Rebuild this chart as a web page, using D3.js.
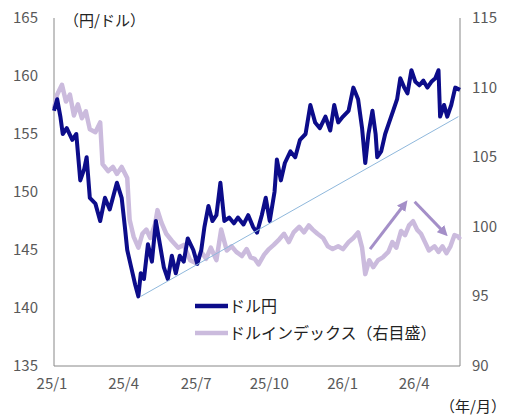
<!DOCTYPE html>
<html><head><meta charset="utf-8">
<script src="https://cdn.jsdelivr.net/npm/d3@7"></script>
<style>body{margin:0;background:#fff}text{font-family:"Noto Sans CJK JP","Noto Sans",sans-serif}</style>
</head><body><svg id="c" width="514" height="419"></svg>
<script>
// --- Data ---
const jpyDates = ["2025-01-01","2025-01-05","2025-01-09","2025-01-12","2025-01-17","2025-01-24","2025-01-29","2025-02-03","2025-02-08","2025-02-11","2025-02-15","2025-02-22","2025-02-28","2025-03-06","2025-03-12","2025-03-21","2025-03-27","2025-03-31","2025-04-03","2025-04-08","2025-04-13","2025-04-17","2025-04-20","2025-04-24","2025-04-29","2025-05-04","2025-05-09","2025-05-14","2025-05-19","2025-05-24","2025-05-29","2025-06-03","2025-06-08","2025-06-13","2025-06-18","2025-06-25","2025-06-30","2025-07-05","2025-07-09","2025-07-14","2025-07-19","2025-07-24","2025-07-29","2025-08-03","2025-08-09","2025-08-15","2025-08-20","2025-08-27","2025-09-02","2025-09-08","2025-09-13","2025-09-19","2025-09-24","2025-09-29","2025-10-05","2025-10-08","2025-10-13","2025-10-18","2025-10-25","2025-10-31","2025-11-06","2025-11-13","2025-11-19","2025-11-25","2025-12-01","2025-12-08","2025-12-14","2025-12-19","2025-12-24","2025-12-30","2026-01-06","2026-01-12","2026-01-18","2026-01-23","2026-01-27","2026-01-31","2026-02-05","2026-02-09","2026-02-11","2026-02-16","2026-02-21","2026-02-26","2026-03-03","2026-03-08","2026-03-12","2026-03-17","2026-03-21","2026-03-26","2026-03-31","2026-04-05","2026-04-10","2026-04-15","2026-04-20","2026-04-25","2026-04-29","2026-05-01","2026-05-06","2026-05-10","2026-05-15","2026-05-20","2026-05-26"];
const jpyValues = [157,158,156.5,155,155.5,154.5,155,151,152,153,149.5,149,147.5,149.5,148.5,150.8,149.5,147,145,143.5,142,141,143,142.5,145.5,144,147.5,145.5,143.5,142.5,144.5,143,144.5,144,146,145,143.8,145,147,148.8,147.5,148,150.8,147.5,147.8,147.3,147.8,147.2,148,147,146.5,148,149.5,147.5,150,152.8,151,152.5,153.5,153,154.5,155,157.5,156,155.5,156.5,155.3,157.5,156,156.5,157,159,158,155.5,152.5,155,157,155,153,153.5,155,156,157,158,159.8,159,158.5,160.5,159.5,159.2,159.6,159,159.5,159.8,160.5,156.5,157.5,156.5,157.5,159,158.8];
const dxyDates = ["2025-01-01","2025-01-05","2025-01-11","2025-01-16","2025-01-21","2025-01-26","2025-01-31","2025-02-05","2025-02-10","2025-02-15","2025-02-22","2025-02-28","2025-03-03","2025-03-10","2025-03-16","2025-03-21","2025-03-27","2025-04-03","2025-04-06","2025-04-11","2025-04-17","2025-04-22","2025-04-27","2025-05-02","2025-05-08","2025-05-11","2025-05-16","2025-05-22","2025-05-29","2025-06-06","2025-06-13","2025-06-21","2025-06-28","2025-07-05","2025-07-11","2025-07-17","2025-07-24","2025-07-30","2025-08-06","2025-08-12","2025-08-18","2025-08-25","2025-08-31","2025-09-05","2025-09-10","2025-09-15","2025-09-22","2025-09-28","2025-10-04","2025-10-11","2025-10-17","2025-10-23","2025-10-29","2025-11-05","2025-11-11","2025-11-17","2025-11-22","2025-11-28","2025-12-05","2025-12-11","2025-12-17","2025-12-24","2025-12-30","2026-01-06","2026-01-12","2026-01-18","2026-01-23","2026-01-27","2026-02-01","2026-02-06","2026-02-12","2026-02-18","2026-02-25","2026-03-02","2026-03-07","2026-03-13","2026-03-18","2026-03-23","2026-03-28","2026-04-02","2026-04-07","2026-04-12","2026-04-17","2026-04-24","2026-04-29","2026-05-04","2026-05-09","2026-05-14","2026-05-19","2026-05-24","2026-05-26"];
const dxyValues = [108.5,109.5,110.2,109,109.5,108,108.8,107.8,108.3,107,106.8,107.5,104.5,104,104.3,103.8,104.3,103.5,100.5,99.3,98.5,99.5,99.8,99.2,100.2,101.2,100.3,99.5,99,98.5,98.7,97.6,97.4,98.2,97.7,98.5,97.6,99.8,98.3,98.6,98.2,97.9,98.4,97.8,97.7,97.3,98,98.4,98.7,99.1,99.5,98.9,99.6,100,99.6,100.1,99.8,99.5,99.2,98.6,98.4,98.6,98.4,98.9,99.2,99.6,98.5,96.6,97.6,97.1,97.6,97.8,98.2,98.9,98.5,99.7,99.4,100.1,100.4,99.8,99.5,98.9,98.3,98.6,98.2,98.6,98.1,98.6,99.4,99.3,99.1];
const leftTicks = [135,140,145,150,155,160,165];
const rightTicks = [90,95,100,105,110,115];
const xTickDates = ["2025-01-01","2025-04-01","2025-07-01","2025-10-01","2026-01-01","2026-04-01"];
const trendLine = [["2025-04-20",141],["2026-05-24",156.5]];
const arrows = [[["2026-02-02",98.4],["2026-03-17",101.6]],[["2026-03-30",101.8],["2026-05-06",99.6]]];
const seriesNames = ["ドル円","ドルインデックス（右目盛）"];

const parse = d3.timeParse("%Y-%m-%d");
const svg = d3.select('#c');
const L = 54, R = 460, T = 18, B = 366;
const x = d3.scaleTime().domain([parse("2025-01-01"), parse("2026-05-26")]).range([L, R]);
const yL = d3.scaleLinear().domain([135, 165]).range([B, T]);
const yR = d3.scaleLinear().domain([90, 115]).range([B, T]);
const grey = '#888', txt = '#595959';

// axes
svg.append('path').attr('d', `M${L},${T}V${B}H${R}V${T}`).attr('fill', 'none').attr('stroke', grey).attr('stroke-width', 1);
svg.selectAll('.tl').data(leftTicks).join('text').attr('x', 38).attr('y', d => yL(d) + 5)
    .attr('text-anchor', 'end').attr('font-size', 15).attr('fill', txt).text(d => d);
svg.selectAll('.tr').data(rightTicks).join('text').attr('x', 472).attr('y', d => yR(d) + 5)
    .attr('font-size', 15).attr('fill', txt).text(d => d);
svg.selectAll('.tx').data(xTickDates).join('text').attr('x', d => x(parse(d)) - 2).attr('y', 389)
    .attr('text-anchor', 'middle').attr('font-size', 15).attr('fill', txt).text(d => d3.timeFormat('%y/')(parse(d)) + (parse(d).getMonth() + 1));
svg.append('text').attr('x', 64).attr('y', 26).attr('font-size', 15).attr('fill', '#222').text('（円/ドル）');
svg.append('text').attr('x', 506).attr('y', 412).attr('text-anchor', 'end').attr('font-size', 15).attr('fill', '#222').text('（年/月）');

// lines
const lineR = d3.line().x(d => x(d[0])).y(d => yR(d[1]));
const lineL = d3.line().x(d => x(d[0])).y(d => yL(d[1]));
svg.append('path').datum(dxyDates.map((d, i) => [parse(d), dxyValues[i]])).attr('d', lineR)
    .attr('fill', 'none').attr('stroke', '#cbbbdd').attr('stroke-width', 4.5).attr('stroke-linejoin', 'round');
svg.append('path').datum(jpyDates.map((d, i) => [parse(d), jpyValues[i]])).attr('d', lineL)
    .attr('fill', 'none').attr('stroke', '#0c0c8a').attr('stroke-width', 4).attr('stroke-linejoin', 'round');
svg.append('path').datum(trendLine.map(d => [parse(d[0]), d[1]])).attr('d', lineL)
    .attr('fill', 'none').attr('stroke', '#8fb8dc').attr('stroke-width', 1);

// arrows
svg.append('defs').append('marker').attr('id', 'ah').attr('viewBox', '0 0 10 10').attr('refX', 5).attr('refY', 5)
    .attr('markerWidth', 3.5).attr('markerHeight', 3.5).attr('orient', 'auto')
    .append('path').attr('d', 'M0,0L10,5L0,10Z').attr('fill', '#a48fc8');
svg.selectAll('.ar').data(arrows).join('path')
    .attr('d', d => lineR(d.map(p => [parse(p[0]), p[1]])))
    .attr('stroke', '#a48fc8').attr('stroke-width', 3).attr('fill', 'none').attr('marker-end', 'url(#ah)');

// legend
const lg = svg.selectAll('.lg').data(seriesNames).join('g').attr('transform', (d, i) => `translate(195,${306 + i * 27})`);
lg.append('line').attr('x1', 0).attr('x2', 33).attr('stroke', (d, i) => i ? '#cbbbdd' : '#0c0c8a').attr('stroke-width', 4.5);
lg.append('text').attr('x', 34).attr('y', 6).attr('font-size', 16).attr('fill', '#222').text(d => d);
</script></body></html>
